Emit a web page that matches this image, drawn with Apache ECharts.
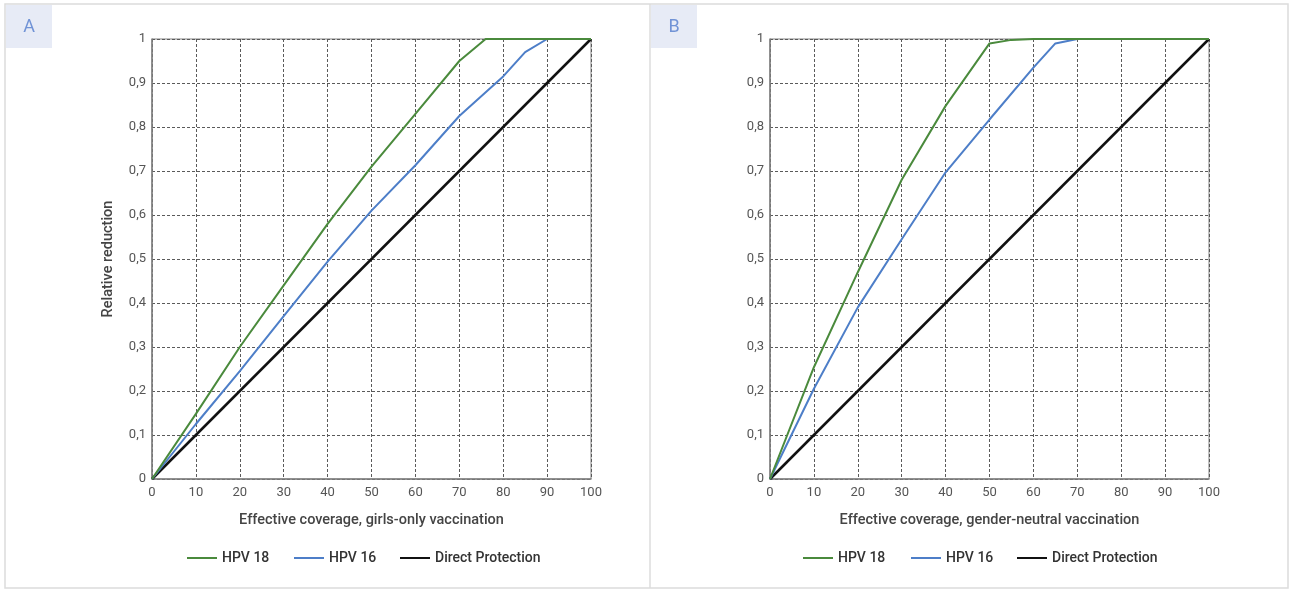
<!DOCTYPE html>
<html><head><meta charset="utf-8">
<script src="https://cdn.jsdelivr.net/npm/echarts@6/dist/echarts.min.js"></script>
<style>html,body{margin:0;padding:0;background:#fff}#c{width:1292px;height:590px}</style>
</head><body><div id="c"></div>
<script>
// Panel A: girls-only vaccination
const coverageA_hpv18 = [0, 10, 20, 30, 40, 50, 60, 70, 76, 80, 90, 100];
const reductionA_hpv18 = [0, 0.148, 0.30, 0.44, 0.58, 0.71, 0.83, 0.95, 1.0, 1.0, 1.0, 1.0];
const coverageA_hpv16 = [0, 10, 20, 30, 40, 50, 60, 70, 80, 85, 90, 100];
const reductionA_hpv16 = [0, 0.125, 0.245, 0.37, 0.494, 0.61, 0.713, 0.825, 0.915, 0.97, 1.0, 1.0];
// Panel B: gender-neutral vaccination
const coverageB_hpv18 = [0, 10, 20, 30, 40, 50, 55, 60, 70, 80, 90, 100];
const reductionB_hpv18 = [0, 0.254, 0.47, 0.68, 0.848, 0.99, 0.998, 1.0, 1.0, 1.0, 1.0, 1.0];
const coverageB_hpv16 = [0, 10, 20, 30, 40, 50, 60, 65, 70, 80, 90, 100];
const reductionB_hpv16 = [0, 0.205, 0.39, 0.545, 0.697, 0.817, 0.935, 0.99, 1.0, 1.0, 1.0, 1.0];
// Direct protection (both panels)
const coverageDirect = [0, 100];
const reductionDirect = [0, 1];

const seriesNames = ['HPV 18', 'HPV 16', 'Direct Protection'];
const panelLabels = ['A', 'B'];
const xAxisTitles = ['Effective coverage, girls-only vaccination', 'Effective coverage, gender-neutral vaccination'];
const yAxisTitle = 'Relative reduction';

const colors = { 'HPV 18': '#4a8a3c', 'HPV 16': '#4d7ec8', 'Direct Protection': '#111111' };
const FONT = 'Roboto';
const pairs = (xs, ys) => xs.map((x, i) => [x, ys[i]]);

const grids = [
  { left: 152, top: 39, width: 439, height: 440, show: true, borderColor: '#808080', borderWidth: 1 },
  { left: 770, top: 39, width: 439, height: 440, show: true, borderColor: '#808080', borderWidth: 1 }
];
const splitLine = { show: true, lineStyle: { color: '#5a5a5a', type: [3, 2], width: 1 } };
const axisLabel = { color: '#555', fontFamily: FONT, fontSize: 13 };
const nameStyle = { color: '#444', fontFamily: FONT, fontSize: 14.5, fontWeight: 500 };
const xAxes = [0, 1].map(i => ({
  type: 'value', gridIndex: i, min: 0, max: 100, interval: 10,
  axisLine: { show: true, lineStyle: { color: '#808080', width: 1.5 } },
  axisTick: { show: false }, splitLine,
  axisLabel: Object.assign({ margin: 7 }, axisLabel),
  name: xAxisTitles[i], nameLocation: 'middle', nameGap: 34,
  nameTextStyle: nameStyle
}));
const yAxes = [0, 1].map(i => ({
  type: 'value', gridIndex: i, min: 0, max: 1, interval: 0.1,
  axisLine: { show: true, lineStyle: { color: '#808080', width: 1.5 } },
  axisTick: { show: false }, splitLine,
  axisLabel: Object.assign({ margin: 6, formatter: v => String(Math.round(v * 10) / 10).replace('.', ',') }, axisLabel),
  name: i === 0 ? yAxisTitle : '', nameLocation: 'middle', nameGap: 36, nameRotate: 90,
  nameTextStyle: nameStyle
}));

const panelData = [
  [pairs(coverageA_hpv18, reductionA_hpv18), pairs(coverageA_hpv16, reductionA_hpv16), pairs(coverageDirect, reductionDirect)],
  [pairs(coverageB_hpv18, reductionB_hpv18), pairs(coverageB_hpv16, reductionB_hpv16), pairs(coverageDirect, reductionDirect)]
];
const series = [];
[0, 1].forEach(p => {
  seriesNames.forEach((name, k) => {
    series.push({
      name, type: 'line', xAxisIndex: p, yAxisIndex: p, data: panelData[p][k],
      showSymbol: false, symbol: 'none', z: 10 - k,
      lineStyle: { color: colors[name], width: name === 'Direct Protection' ? 2.5 : 2 },
      itemStyle: { color: colors[name] }
    });
  });
});

const legendBase = {
  top: 546, itemWidth: 30, itemHeight: 14, itemGap: 8, icon: 'path://M0,6 L30,6 L30,8 L0,8 Z',
  textStyle: { color: '#333', fontFamily: FONT, fontSize: 14, fontWeight: 500 }, selectedMode: false
};
const legendLefts = [[182, 289, 395], [798, 906, 1012]];
const legends = [];
legendLefts.forEach(row => row.forEach((l, k) => legends.push(Object.assign({ left: l, data: [seriesNames[k]] }, legendBase))));

const graphic = [
  { type: 'rect', shape: { x: 5, y: 4, width: 1283, height: 584 }, style: { fill: 'none', stroke: '#dcdcdc', lineWidth: 1.5 }, silent: true },
  { type: 'line', shape: { x1: 650, y1: 4, x2: 650, y2: 588 }, style: { stroke: '#dcdcdc', lineWidth: 1.5 }, silent: true },
  { type: 'rect', shape: { x: 6, y: 5, width: 46, height: 43 }, style: { fill: '#e7ebf6' }, silent: true },
  { type: 'rect', shape: { x: 651, y: 5, width: 46, height: 43 }, style: { fill: '#e7ebf6' }, silent: true },
  { type: 'text', x: 29, y: 27, style: { text: panelLabels[0], fill: '#7193d6', font: '18px ' + FONT, textAlign: 'center', textVerticalAlign: 'middle' }, silent: true },
  { type: 'text', x: 674, y: 27, style: { text: panelLabels[1], fill: '#7193d6', font: '18px ' + FONT, textAlign: 'center', textVerticalAlign: 'middle' }, silent: true }
];

const chart = echarts.init(document.getElementById('c'), null, { renderer: 'canvas' });
chart.setOption({
  animation: false, backgroundColor: '#fff',
  grid: grids, xAxis: xAxes, yAxis: yAxes, series,
  legend: legends,
  graphic
});
</script></body></html>
